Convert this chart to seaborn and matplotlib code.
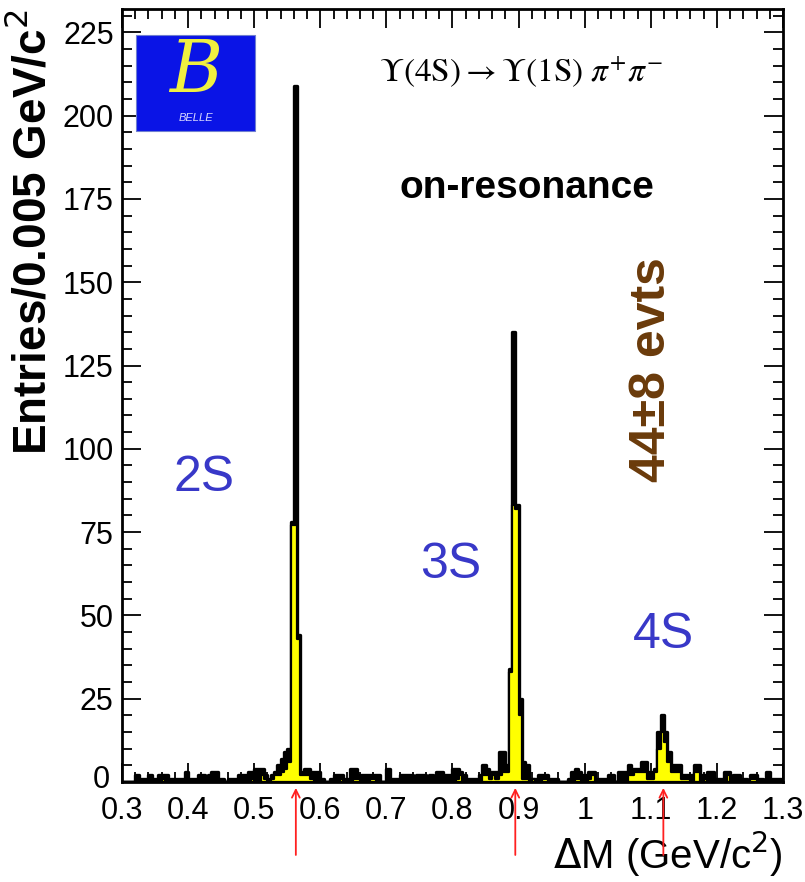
import numpy as np
import pandas as pd
import matplotlib
matplotlib.use("Agg")
import matplotlib.pyplot as plt
import matplotlib.transforms as mtransforms
import seaborn as sns
from matplotlib.patches import Rectangle

# ---- data: 200 bins of 0.005 GeV/c^2 from 0.3 to 1.3 ----
bin_lo = 0.3
bin_hi = 1.3
bin_width = 0.005

all_counts = [
    # 0.300 - 0.395
    0, 0, 0, 0, 2, 1, 1, 1, 2, 1, 1, 2, 2, 2, 1, 1, 1, 1, 1, 3,
    # 0.400 - 0.495
    1, 1, 1, 2, 2, 1, 2, 3, 3, 1, 1, 0, 1, 1, 1, 2, 2, 2, 3, 3,
    # 0.500 - 0.595
    4, 4, 4, 2, 1, 2, 3, 5, 7, 9, 10, 78, 209, 44, 3, 4, 4, 3, 3, 3,
    # 0.600 - 0.695
    1, 0, 0, 1, 2, 2, 2, 1, 1, 4, 4, 2, 2, 2, 2, 2, 2, 2, 0, 0,
    # 0.700 - 0.795
    4, 1, 1, 1, 2, 2, 2, 2, 1, 2, 2, 2, 1, 2, 1, 3, 3, 2, 2, 2,
    # 0.800 - 0.895
    4, 4, 3, 2, 1, 1, 1, 1, 2, 5, 4, 3, 3, 3, 9, 9, 5, 34, 135, 83,
    # 0.900 - 0.995
    25, 6, 5, 1, 1, 1, 2, 2, 2, 1, 1, 1, 0, 0, 0, 1, 3, 4, 3, 2,
    # 1.000 - 1.095
    2, 3, 3, 1, 1, 1, 1, 2, 2, 0, 3, 3, 3, 5, 4, 4, 4, 6, 6, 3,
    # 1.100 - 1.195
    3, 4, 15, 20, 15, 9, 5, 5, 5, 2, 2, 2, 2, 5, 5, 2, 2, 3, 3, 1,
    # 1.200 - 1.295
    1, 1, 3, 3, 1, 2, 2, 1, 1, 0, 2, 2, 1, 1, 0, 3, 1, 1, 1, 1,
]

signal_counts = [
    # 0.300 - 0.395
    0, 0, 0, 0, 0, 0, 0, 0, 0, 0, 0, 0, 1, 0, 0, 0, 0, 0, 0, 0,
    # 0.400 - 0.495
    0, 0, 0, 0, 0, 0, 0, 0, 0, 0, 0, 0, 0, 0, 0, 0, 0, 0, 0, 1,
    # 0.500 - 0.595
    0, 0, 2, 1, 0, 1, 2, 2, 3, 4, 6, 77, 77, 43, 2, 2, 2, 1, 0, 0,
    # 0.600 - 0.695
    0, 0, 0, 0, 0, 0, 1, 0, 0, 0, 1, 1, 0, 0, 0, 1, 1, 0, 0, 0,
    # 0.700 - 0.795
    0, 0, 0, 0, 0, 0, 0, 0, 0, 0, 0, 0, 0, 0, 0, 0, 0, 0, 0, 0,
    # 0.800 - 0.895
    0, 1, 2, 0, 0, 0, 0, 0, 0, 2, 2, 1, 2, 1, 2, 3, 3, 33, 83, 82,
    # 0.900 - 0.995
    20, 1, 1, 0, 1, 0, 0, 1, 1, 0, 0, 0, 0, 0, 0, 0, 0, 1, 1, 0,
    # 1.000 - 1.095
    0, 1, 2, 0, 0, 0, 0, 0, 0, 0, 0, 0, 0, 2, 2, 3, 3, 3, 3, 1,
    # 1.100 - 1.195
    1, 3, 10, 15, 12, 6, 3, 3, 3, 1, 1, 1, 0, 3, 3, 0, 1, 0, 0, 0,
    # 1.200 - 1.295
    0, 0, 0, 2, 0, 0, 0, 0, 0, 0, 1, 1, 0, 0, 0, 0, 0, 0, 0, 0,
]

peak_labels = ["2S", "3S", "4S"]
peak_positions = [0.563, 0.895, 1.119]

x_ticks = [0.3, 0.4, 0.5, 0.6, 0.7, 0.8, 0.9, 1.0, 1.1, 1.2, 1.3]
x_tick_labels = ["0.3", "0.4", "0.5", "0.6", "0.7", "0.8", "0.9", "1", "1.1", "1.2", "1.3"]
y_ticks = [0, 25, 50, 75, 100, 125, 150, 175, 200, 225]

n_bins = len(all_counts)
edges = [float(e) for e in np.linspace(bin_lo, bin_hi, n_bins + 1)]
centers = [0.5 * (edges[i] + edges[i + 1]) for i in range(n_bins)]
df = pd.DataFrame({"dM": centers, "all": all_counts, "signal": signal_counts})

# ---- style ----
sns.set_style("ticks")
plt.rcParams["font.family"] = ["Liberation Sans", "DejaVu Sans"]
plt.rcParams["mathtext.fontset"] = "stix"
plt.rcParams["text.color"] = "black"
plt.rcParams["axes.labelcolor"] = "black"
plt.rcParams["xtick.color"] = "black"
plt.rcParams["ytick.color"] = "black"

W, H = 805, 882
fig = plt.figure(figsize=(W / 100, H / 100), dpi=100)
ax = fig.add_axes([122 / W, 1 - 782 / H, (783 - 122) / W, (782 - 9) / H])

sns.histplot(data=df, x="dM", weights="all", bins=edges, element="step",
             fill=True, color="black", alpha=1, linewidth=2.4, ax=ax)
sns.histplot(data=df, x="dM", weights="signal", bins=edges, element="step",
             fill=True, facecolor="#ffff00", edgecolor="black", alpha=1,
             linewidth=1.6, ax=ax)

ax.set_xlim(bin_lo, bin_hi)
ax.set_ylim(0, 232)
ax.set_xticks(x_ticks)
ax.set_xticklabels(x_tick_labels)
ax.set_yticks(y_ticks)
ax.set_xticks(np.arange(0.3, 1.3001, 0.02), minor=True)
ax.set_yticks(np.arange(0, 231, 5), minor=True)
ax.tick_params(which="both", direction="in", top=True, right=True, width=1.3,
               colors="black", labelcolor="black")
ax.tick_params(which="major", length=14, labelsize=22)
ax.tick_params(axis="x", which="major", pad=10)
ax.tick_params(axis="y", which="major", pad=6)
ax.tick_params(which="minor", length=7)
for sp in ax.spines.values():
    sp.set_linewidth(2.0)
    sp.set_color("black")

# nudge the "0" label on y up/left a touch so it clears "0.3"
zero_lab = ax.yaxis.get_major_ticks()[0].label1
zero_lab.set_transform(zero_lab.get_transform() +
                       mtransforms.ScaledTranslation(-4 / 100, 5 / 100,
                                                     fig.dpi_scale_trans))

ax.set_xlabel(r"$\Delta$M (GeV/c$^{2}$)", fontsize=29, loc="right", labelpad=3,
              color="black")
ax.set_ylabel(r"Entries/0.005 GeV/c$^{2}$", fontsize=33, fontweight="bold",
              loc="top", labelpad=0, color="black")
ax.yaxis.label.set_math_fontfamily("dejavusans")
ax.xaxis.label.set_math_fontfamily("dejavusans")
ax.yaxis.set_label_coords(-0.1, 1.0)

# arrows below the axis at the expected peak positions
for xp in peak_positions:
    ax.annotate("", xy=(xp, -0.004), xycoords=("data", "axes fraction"),
                xytext=(xp, -0.098), textcoords=("data", "axes fraction"),
                arrowprops=dict(arrowstyle="->", color="#ff2020", lw=1.3,
                                mutation_scale=14),
                annotation_clip=False)

def fx(px):
    return px / W

def fy(py):
    return 1 - py / H

# peak labels
label_pix = [(204, 478), (451, 565), (663, 635)]
for lab, (px, py) in zip(peak_labels, label_pix):
    fig.text(fx(px), fy(py), lab, color="#3838c8", fontsize=36,
             ha="center", va="center")

fig.text(fx(521), fy(72), r"$\Upsilon\mathrm{(4S)} \rightarrow \Upsilon\mathrm{(1S)}\ \pi^{+}\pi^{-}$",
         fontsize=24, ha="center", va="center", color="black")
fig.text(fx(527), fy(188), "on-resonance", fontsize=28, fontweight="bold",
         ha="center", va="center", color="black")
fig.text(fx(652), fy(370), "44±8 evts", fontsize=36, fontweight="bold",
         rotation=90, ha="center", va="center", color="#6a3a0a")

# Belle logo
logo = Rectangle((fx(136), fy(131)), fx(255) - fx(136), fy(35) - fy(131),
                 transform=fig.transFigure, facecolor="#0a14e6",
                 edgecolor="#6f7fd0", linewidth=0.8, zorder=5)
fig.patches.append(logo)
fig.text(fx(196), fy(72), "B", fontsize=52, fontstyle="italic",
         family=["DejaVu Serif"], color="#f0f040", ha="center", va="center",
         zorder=6)
fig.text(fx(196), fy(118), "BELLE", fontsize=8, fontstyle="italic",
         color="#d8d8ff", ha="center", va="center", zorder=6)

fig.savefig("out.png", dpi=100)
